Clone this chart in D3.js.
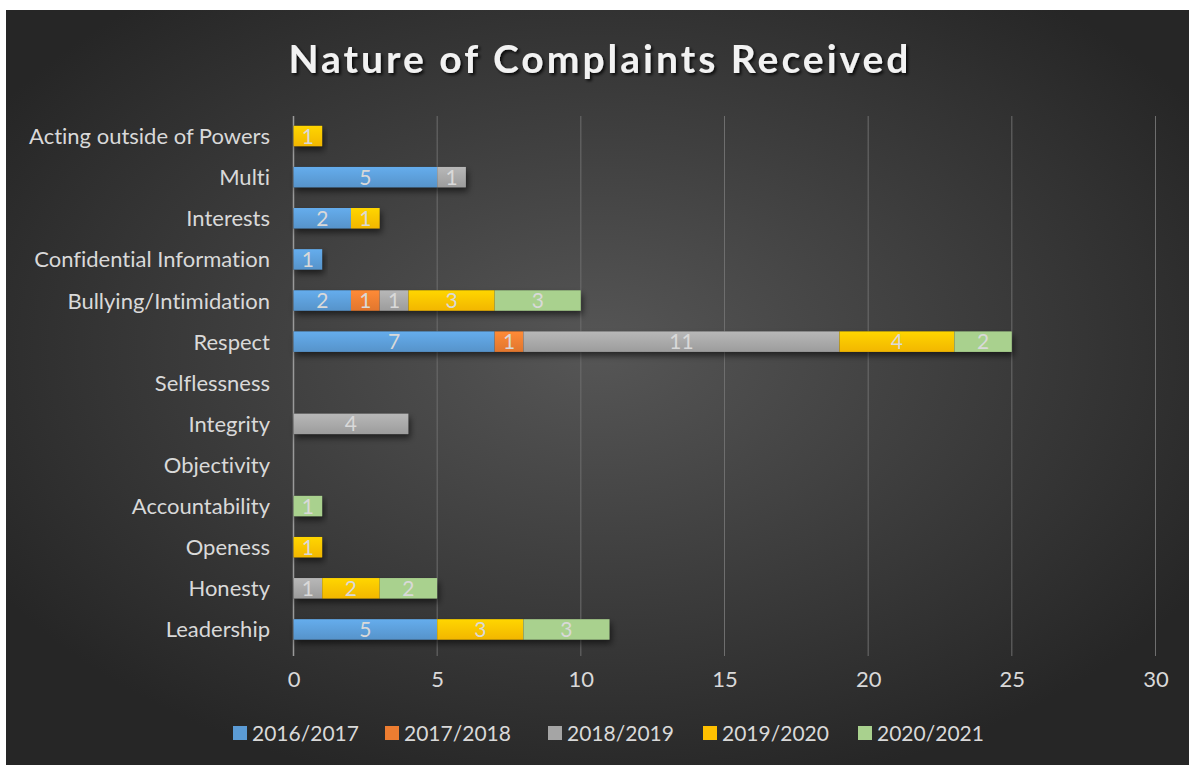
<!DOCTYPE html>
<html>
<head>
<meta charset="utf-8">
<script src="https://cdn.jsdelivr.net/npm/d3@7"></script>
<style>
  body { margin: 0; background: #fff; }
  text { font-family: Lato, "Open Sans", sans-serif; font-variant-ligatures: none; }
</style>
</head>
<body>
<div id="chart"></div>
<script>
// chart data
var categories = ["Acting outside of Powers", "Multi", "Interests", "Confidential Information",
  "Bullying/Intimidation", "Respect", "Selflessness", "Integrity", "Objectivity",
  "Accountability", "Openess", "Honesty", "Leadership"];
var years = ["2016/2017", "2017/2018", "2018/2019", "2019/2020", "2020/2021"];
var y2016 = [0, 5, 2, 1, 2, 7, 0, 0, 0, 0, 0, 0, 5];
var y2017 = [0, 0, 0, 0, 1, 1, 0, 0, 0, 0, 0, 0, 0];
var y2018 = [0, 1, 0, 0, 1, 11, 0, 4, 0, 0, 0, 1, 0];
var y2019 = [1, 0, 1, 0, 3, 4, 0, 0, 0, 0, 1, 2, 3];
var y2020 = [0, 0, 0, 0, 3, 2, 0, 0, 0, 1, 0, 2, 3];
var xTicks = [0, 5, 10, 15, 20, 25, 30];
var colors = ["#5b9bd5", "#ed7d31", "#a5a5a5", "#ffc000", "#a9d18e"];

var width = 1189, height = 765;
var svg = d3.select("#chart").append("svg").attr("width", width).attr("height", height);
var defs = svg.append("defs");

var bg = defs.append("radialGradient").attr("id", "bg")
  .attr("cx", "50%").attr("cy", "45%").attr("r", "60%");
bg.append("stop").attr("offset", "0%").attr("stop-color", "#565656");
bg.append("stop").attr("offset", "100%").attr("stop-color", "#262626");

colors.forEach(function(c, i){
  var g = defs.append("linearGradient").attr("id", "grad" + i)
    .attr("x1", 0).attr("y1", 0).attr("x2", 0).attr("y2", 1);
  var top = i == 4 ? c : d3.color(c).brighter(0.3);
  var bot = i == 4 ? c : d3.color(c).darker(0.15);
  g.append("stop").attr("offset", "0%").attr("stop-color", top);
  g.append("stop").attr("offset", "100%").attr("stop-color", bot);
});

var shadow = defs.append("filter").attr("id", "shadow")
  .attr("x", "-10%").attr("y", "-50%").attr("width", "130%").attr("height", "250%");
shadow.append("feDropShadow").attr("dx", 2).attr("dy", 4).attr("stdDeviation", 3)
  .attr("flood-color", "#000").attr("flood-opacity", 0.55);

var tshadow = defs.append("filter").attr("id", "tshadow")
  .attr("x", "-5%").attr("y", "-20%").attr("width", "110%").attr("height", "150%");
tshadow.append("feDropShadow").attr("dx", 2).attr("dy", 2).attr("stdDeviation", 1.5)
  .attr("flood-color", "#000").attr("flood-opacity", 0.8);

svg.append("rect").attr("x", 6).attr("y", 10).attr("width", width - 6).attr("height", height - 10)
  .attr("fill", "url(#bg)");

svg.append("text").attr("x", 600).attr("y", 73).attr("text-anchor", "middle")
  .attr("font-size", 39).attr("font-weight", "bold").attr("letter-spacing", 3)
  .attr("fill", "#f2f2f2").attr("filter", "url(#tshadow)")
  .text("Nature of Complaints Received");

var xscale = d3.scaleLinear().domain([0, 30]).range([293.5, 1155.5]);
var yscale = d3.scaleBand().domain(categories).range([115.5, 650]).paddingInner(0.5).paddingOuter(0.25);

// grid
svg.append("g").selectAll("line").data(xTicks).enter().append("line")
  .attr("x1", function(d){ return xscale(d); }).attr("x2", function(d){ return xscale(d); })
  .attr("y1", 116).attr("y2", 656)
  .attr("stroke", function(d){ return d == 0 ? "#9a9a9a" : "#6e6e6e"; })
  .attr("stroke-width", function(d){ return d == 0 ? 1.5 : 1; });

var xaxis = d3.axisBottom(xscale).tickValues(xTicks).tickSize(0).tickPadding(0);
var gx = svg.append("g").attr("transform", "translate(0,671)").call(xaxis);
gx.select(".domain").remove();
gx.selectAll("text").attr("font-size", 22).attr("fill", "#d9d9d9")
  .attr("font-family", "Lato, sans-serif").attr("dy", "0.71em");

var yaxis = d3.axisLeft(yscale).tickSize(0).tickPadding(0);
var gy = svg.append("g").attr("transform", "translate(270,1)").call(yaxis);
gy.select(".domain").remove();
gy.selectAll("text").attr("font-size", 22).attr("fill", "#d9d9d9")
  .attr("font-family", "Lato, sans-serif");

var table = categories.map(function(c, i){
  return { cat: c, "2016/2017": y2016[i], "2017/2018": y2017[i], "2018/2019": y2018[i],
    "2019/2020": y2019[i], "2020/2021": y2020[i] };
});
var stacked = d3.stack().keys(years)(table);
var totals = table.map(function(d){ return d3.sum(years, function(k){ return d[k]; }); });

// shadow under whole bars
svg.append("g").selectAll("rect")
  .data(categories.filter(function(c, i){ return totals[i] > 0; })).enter().append("rect")
  .attr("x", xscale(0))
  .attr("y", function(c){ return yscale(c); })
  .attr("height", yscale.bandwidth())
  .attr("width", function(c){ return xscale(totals[categories.indexOf(c)]) - xscale(0); })
  .attr("fill", "#222").attr("filter", "url(#shadow)");

var layers = svg.append("g").selectAll("g").data(stacked).enter().append("g")
  .attr("fill", function(d, i){ return "url(#grad" + i + ")"; });

layers.selectAll("rect").data(function(d){ return d.filter(function(p){ return p[1] > p[0]; }); })
  .enter().append("rect")
  .attr("x", function(p){ return xscale(p[0]); })
  .attr("y", function(p){ return yscale(p.data.cat); })
  .attr("width", function(p){ return xscale(p[1]) - xscale(p[0]); })
  .attr("height", yscale.bandwidth());

layers.selectAll("text").data(function(d){ return d.filter(function(p){ return p[1] > p[0]; }); })
  .enter().append("text")
  .attr("x", function(p){ return (xscale(p[0]) + xscale(p[1])) / 2; })
  .attr("y", function(p){ return yscale(p.data.cat) + yscale.bandwidth() / 2; })
  .attr("dy", "0.36em").attr("text-anchor", "middle")
  .attr("font-size", 21).attr("fill", "#d9d9d9")
  .text(function(p){ return p[1] - p[0]; });

// legend
var legendX = [233, 385, 548, 703, 858];
var legend = svg.append("g").selectAll("g").data(years).enter().append("g")
  .attr("transform", function(d, i){ return "translate(" + legendX[i] + ",733)"; });
legend.append("rect").attr("x", 0).attr("y", -7).attr("width", 14).attr("height", 14)
  .attr("fill", function(d, i){ return colors[i]; });
legend.append("text").attr("x", 19).attr("dy", "0.36em").attr("font-size", 21)
  .attr("fill", "#d9d9d9").text(function(d){ return d; });
</script>
</body>
</html>
